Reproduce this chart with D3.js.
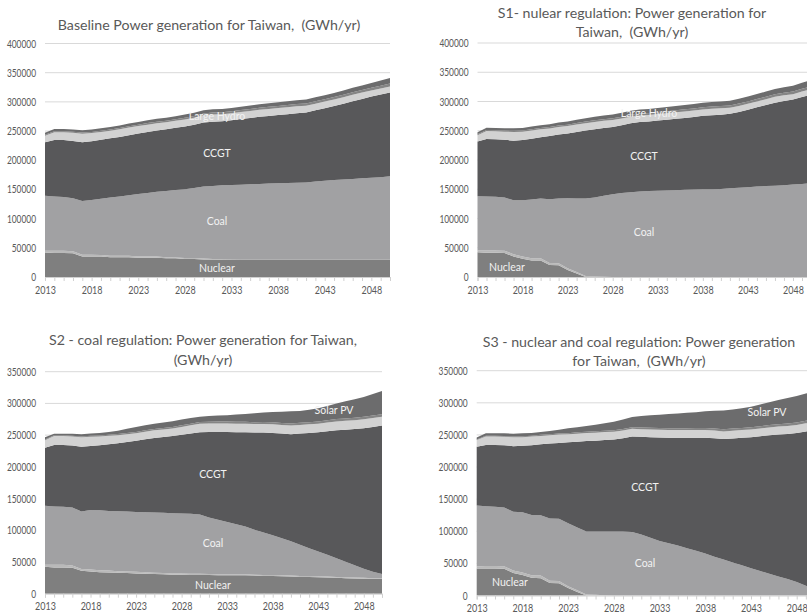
<!DOCTYPE html>
<html>
<head>
<meta charset="utf-8">
<script src="https://cdn.jsdelivr.net/npm/d3@7"></script>
<style>
  html, body { margin: 0; padding: 0; background: #fff; }
  svg { display: block; }
  text { font-family: Lato, "Open Sans", sans-serif; }
</style>
</head>
<body>
<svg id="chart" width="807" height="616"></svg>
<script>
// ---------------- DATA ----------------
const years = d3.range(2013, 2051);
const seriesNames = ["Nuclear", "Oil", "Coal", "CCGT", "Large Hydro", "Wind", "Solar PV"];
const xTickLabels = [2013, 2018, 2023, 2028, 2033, 2038, 2043, 2048];

// Baseline
const baseNuclear = [42000,41000,41000,40500,35000,35000,35000,34000,34000,34000,33000,33000,33000,32000,32000,31000,31000,30000,30000,30000,30000,30000,30000,30000,30000,30000,30000,30000,30000,30000,30000,30000,30000,30000,30000,30000,30000,30000];
const baseOil = [3000,4000,4000,3500,3000,3000,2500,2500,2500,2500,2000,2000,2000,2000,1500,1500,1500,1500,1000,1000,500,0,0,0,0,0,0,0,0,0,0,0,0,0,0,0,0,0];
const baseCoal = [94000,93000,92000,91000,92000,94000,96500,99500,101500,103500,107000,109000,111000,113500,115500,118000,120000,123500,125000,126000,127000,128000,129000,129500,130000,130500,131000,131500,132000,133500,135000,136000,137000,138000,139000,140000,141000,142500];
const baseCCGT = [92000,96500,97500,98000,101000,100500,101000,101500,102000,103000,104000,104500,105000,105500,106500,107500,108500,109500,110000,110000,111000,112500,113500,115000,116000,117000,118000,119000,120000,122000,124000,127000,130000,133000,136000,139000,141500,143500];
const baseHydro = [11000,13500,13500,14000,14500,14000,13500,13000,13000,13000,12500,12500,12500,12000,12000,12000,12000,12500,12500,12000,12000,12000,12000,12000,12000,12000,12000,12000,11500,11500,11500,11000,11000,11000,11000,10500,10500,10500];
const baseWind = [1500,1800,1800,1800,2000,2000,2000,2200,2200,2400,2400,2600,2600,2800,2800,3000,3000,3200,3200,3200,3400,3400,3400,3600,3600,3600,3800,3800,3800,4000,4000,4200,4200,4400,4400,4600,4800,5000];
const baseSolar = [3500,3800,3800,3800,4000,4000,4200,4200,4400,4600,4800,4800,5000,5000,5000,5200,5400,5600,5600,5600,5800,5800,6000,6000,6200,6200,6400,6400,6600,6800,7000,7200,7400,7600,7800,8200,8800,9500];

// S1 - nuclear regulation
const s1Nuclear = [42500,41500,41500,41000,35000,31000,28000,28000,20500,20000,12000,6000,0,0,0,0,0,0,0,0,0,0,0,0,0,0,0,0,0,0,0,0,0,0,0,0,0,0];
const s1Oil = [3000,4000,4000,4000,4000,4000,4000,4000,3500,3500,3000,2500,1500,1000,500,0,0,0,0,0,0,0,0,0,0,0,0,0,0,0,0,0,0,0,0,0,0,0];
const s1Coal = [92500,92000,91500,91000,92000,96000,100500,102000,109000,110500,119500,125500,132500,135000,138500,141500,143500,145000,146000,147000,147500,148000,148500,149000,149500,150000,150000,150500,151500,152500,153500,154500,155500,156000,157000,158000,159000,160500];
const s1CCGT = [93500,98500,98500,98500,102000,103000,104000,105000,108000,109500,111000,114000,116500,116500,115500,115000,116000,118000,119000,119000,120000,121000,122000,123000,124000,125500,126500,127000,127500,129500,132500,135500,138500,142000,144000,145500,148500,151000];
const s1Hydro = [11000,13500,13500,14000,15000,14500,14000,13500,13000,13000,12500,12500,12500,12500,12500,12000,11500,11000,11000,11000,11000,11000,11000,11000,11000,11000,11000,11000,10500,10500,10000,10000,10000,10000,9500,9000,9500,9500];
const s1Wind = [1500,1800,1800,1800,2000,2000,2000,2200,2200,2400,2400,2600,2600,2800,2800,3000,3000,3200,3200,3200,3400,3400,3400,3600,3600,3600,3800,3800,3800,4000,4000,4200,4200,4400,4400,4600,4800,5000];
const s1Solar = [3500,4000,4000,4000,4200,4400,4600,4800,5000,5200,5400,5600,5800,6000,6200,6400,6600,6800,7000,7000,7200,7200,7400,7400,7600,7600,7800,7800,8000,8200,8400,8600,8800,9000,9400,9800,10200,10600];

// S2 - coal regulation
const s2Nuclear = [42500,41500,41500,41000,36000,35000,34000,33500,33000,32500,32000,31500,31000,30500,30000,30000,29500,29500,29500,29000,29000,29000,29000,28500,28000,28000,27500,27000,26500,26500,26000,25500,25000,24500,24000,23500,23500,23000];
const s2Oil = [3000,4000,4000,3500,3000,3000,3000,3000,2500,2500,2500,2500,2000,2000,2000,2000,2000,2000,1500,1500,1500,1500,1500,1500,1500,1500,1500,1500,1500,1500,1500,1500,1500,1500,1500,1500,1000,1000];
const s2Coal = [93000,92000,91500,91500,90500,94000,94500,94000,94500,94500,94500,94500,95000,95000,95000,94500,94500,93500,89000,86000,82500,79000,75500,71000,67000,62500,58500,54000,49000,43500,39000,34500,29500,24500,19500,14500,10000,7000];
const s2CCGT = [91500,97000,97500,97500,102000,101000,102500,105000,107000,109500,112000,115000,117500,119500,121500,124000,126500,129500,135000,138500,142000,145000,148500,153000,157500,161500,165000,169000,175500,182000,188000,194500,201500,208000,214500,221500,228500,234000];
const s2Hydro = [12000,14000,14000,14500,15000,14500,14000,13500,13000,12500,12000,12000,12000,12000,12000,12500,13000,13500,13500,13500,13500,13500,13500,13500,13500,13500,13500,13500,13500,13500,13500,14000,14000,14000,14000,14000,14000,14000];
const s2Wind = [1000,1200,1200,1200,1400,1400,1400,1600,1600,1800,1800,2000,2000,2200,2200,2400,2400,2600,2600,2800,2800,3000,3000,3000,3200,3200,3200,3400,3400,3400,3600,3600,3800,3800,3800,4000,4000,4000];
const s2Solar = [3500,2300,2300,2800,3600,3600,4100,4400,5400,6700,8200,8000,8500,8800,9300,9100,9100,8400,8900,9700,10200,11500,12500,14000,14800,16300,17800,19100,18600,19600,20900,22400,24700,27200,29200,31000,34000,36500];

// S3 - nuclear and coal regulation
const s3Nuclear = [42000,42000,42000,41500,35000,32000,27500,27000,19500,19000,11500,5500,0,0,0,0,0,0,0,0,0,0,0,0,0,0,0,0,0,0,0,0,0,0,0,0,0,0];
const s3Oil = [3000,4000,4000,4000,4000,4000,4000,4000,3500,3500,3000,2500,1500,1000,500,0,0,0,0,0,0,0,0,0,0,0,0,0,0,0,0,0,0,0,0,0,0,0];
const s3Coal = [95000,93000,92000,91500,91500,93500,94000,94000,97000,97000,98000,98000,98000,98500,99000,99500,99500,99000,95000,90000,85000,81500,78000,73500,69500,65500,60500,56000,51500,47000,42500,38000,34000,29500,25500,21000,15000,9000];
const s3CCGT = [91500,95500,96500,97000,102000,103500,108500,110500,116500,118000,126000,133500,141000,141500,142500,143500,145500,148500,152000,156500,161000,164000,167500,172000,176000,180000,184500,187500,193000,198500,204000,210000,215500,221000,226000,232000,240500,249000];
const s3Hydro = [10500,13000,13000,13000,14000,13500,13500,13000,13000,13000,12500,12500,12500,12500,12500,12000,12000,12000,12000,12000,12000,12000,12000,12000,12000,12000,12000,12000,12000,12000,12000,12000,12000,12500,12500,12500,12500,12500];
const s3Wind = [1000,1200,1200,1200,1400,1400,1400,1600,1600,1800,1800,2000,2000,2200,2200,2400,2400,2600,2600,2800,2800,3000,3000,3000,3200,3200,3200,3400,3400,3400,3600,3600,3800,3800,3800,4000,4000,4000];
const s3Solar = [3000,3800,3800,4300,4100,4600,4100,4400,4900,5700,7700,8000,9000,10300,11300,13100,14600,15900,17900,19200,20700,22000,23000,24000,24800,26300,27300,29100,29600,30600,31900,33900,35700,37700,39700,41000,42500,43500];

const yTicks400 = [0,50000,100000,150000,200000,250000,300000,350000,400000];
const yTicks350 = [0,50000,100000,150000,200000,250000,300000,350000];

// ---------------- STYLE / LAYOUT ----------------
const colors = {
  "Nuclear": "#7f7f7f",
  "Oil": "#b9b9b9",
  "Coal": "#a1a1a3",
  "CCGT": "#58585a",
  "Large Hydro": "#d2d2d2",
  "Wind": "#858585",
  "Solar PV": "#6c6c6d"
};

function rows(n, o, c, g, h, w, s) {
  return years.map((yr, i) => ({year: yr, "Nuclear": n[i], "Oil": o[i], "Coal": c[i], "CCGT": g[i], "Large Hydro": h[i], "Wind": w[i], "Solar PV": s[i]}));
}

const panels = [
  {
    title: ["Baseline Power generation for Taiwan,  (GWh/yr)"], titleX: 209, titleY: [30],
    data: rows(baseNuclear, baseOil, baseCoal, baseCCGT, baseHydro, baseWind, baseSolar),
    x0: 45, x1: 390, yBottom: 277, yTop: 43.5, yMax: 400000, ticks: yTicks400,
    labels: [["Nuclear", 217, 269], ["Coal", 217, 222], ["CCGT", 217, 154], ["Large Hydro", 217, 117]]
  },
  {
    title: ["S1- nulear regulation: Power generation for", "Taiwan,  (GWh/yr)"], titleX: 632, titleY: [18, 37],
    data: rows(s1Nuclear, s1Oil, s1Coal, s1CCGT, s1Hydro, s1Wind, s1Solar),
    x0: 477.5, x1: 811, yBottom: 277, yTop: 43, yMax: 400000, ticks: yTicks400,
    labels: [["Nuclear", 507, 268], ["Coal", 644, 233], ["CCGT", 644, 157], ["Large Hydro", 649, 114]]
  },
  {
    title: ["S2 - coal regulation: Power generation for Taiwan,", "(GWh/yr)"], titleX: 203, titleY: [345, 365],
    data: rows(s2Nuclear, s2Oil, s2Coal, s2CCGT, s2Hydro, s2Wind, s2Solar),
    x0: 45, x1: 382, yBottom: 593.7, yTop: 371.7, yMax: 350000, ticks: yTicks350,
    labels: [["Nuclear", 213, 586], ["Coal", 213, 544], ["CCGT", 213, 475], ["Solar PV", 334, 411]]
  },
  {
    title: ["S3 - nuclear and coal regulation: Power generation", "for Taiwan,  (GWh/yr)"], titleX: 639, titleY: [347, 366],
    data: rows(s3Nuclear, s3Oil, s3Coal, s3CCGT, s3Hydro, s3Wind, s3Solar),
    x0: 476.7, x1: 815, yBottom: 595.5, yTop: 370.7, yMax: 350000, ticks: yTicks350,
    labels: [["Nuclear", 510, 583], ["Coal", 645, 564], ["CCGT", 645, 488], ["Solar PV", 767, 413]]
  }
];

// ---------------- DRAW ----------------
const svg = d3.select("#chart");
svg.append("rect").attr("width", 807).attr("height", 616).attr("fill", "#fff");

const stack = d3.stack().keys(seriesNames);
const digitW = 4.85; // narrow (Calibri-like) digit advance

panels.forEach(p => {
  const g = svg.append("g");
  const x = d3.scaleLinear().domain([2013, 2050]).range([p.x0, p.x1]);
  const y = d3.scaleLinear().domain([0, p.yMax]).range([p.yBottom, p.yTop]);

  // gridlines
  g.append("g").selectAll("line").data(p.ticks.filter(t => t > 0)).join("line")
    .attr("x1", p.x0).attr("x2", p.x1)
    .attr("y1", d => y(d)).attr("y2", d => y(d))
    .attr("stroke", "#d9d9d9").attr("stroke-width", 1);

  // y labels
  const ya = d3.axisLeft(y).tickValues(p.ticks).tickSize(0).tickPadding(9).tickFormat(d3.format("d"));
  const yg = g.append("g").attr("transform", `translate(${p.x0},0)`).call(ya);
  yg.select(".domain").remove();
  yg.selectAll("text")
    .attr("fill", "#595959").style("font-family", "Lato, sans-serif").style("font-size", "11px")
    .attr("textLength", function() { return this.textContent.length * digitW; })
    .attr("lengthAdjust", "spacingAndGlyphs");

  // stacked areas
  const stacked = stack(p.data);
  const area = d3.area()
    .x(d => x(d.data.year))
    .y0(d => y(d[0]))
    .y1(d => y(d[1]));
  g.append("g").selectAll("path").data(stacked).join("path")
    .attr("d", area)
    .attr("fill", d => colors[d.key]);

  // x axis
  const xa = d3.axisBottom(x).tickValues(years).tickSize(4).tickPadding(5)
    .tickFormat(d => xTickLabels.includes(d) ? String(d) : "");
  const xg = g.append("g").attr("transform", `translate(0,${p.yBottom})`).call(xa);
  xg.select(".domain").attr("stroke", "#d0d0d0");
  xg.selectAll(".tick line").attr("stroke", "#d0d0d0");
  xg.selectAll("text").filter(function() { return this.textContent.length > 0; })
    .attr("fill", "#595959").style("font-family", "Lato, sans-serif").style("font-size", "11px")
    .attr("textLength", function() { return this.textContent.length * 5.2; })
    .attr("lengthAdjust", "spacingAndGlyphs");

  // series labels
  g.append("g").selectAll("text").data(p.labels).join("text")
    .attr("x", d => d[1]).attr("y", d => d[2])
    .attr("text-anchor", "middle").attr("dominant-baseline", "middle")
    .attr("fill", "#f2f2f2").style("font-size", "10.5px")
    .text(d => d[0]);

  // title
  g.append("g").selectAll("text").data(p.title).join("text")
    .attr("x", p.titleX).attr("y", (d, i) => p.titleY[i])
    .attr("text-anchor", "middle").attr("fill", "#595959").style("font-size", "14.2px")
    .style("white-space", "pre").attr("xml:space", "preserve")
    .text(d => d);
});
</script>
</body>
</html>
